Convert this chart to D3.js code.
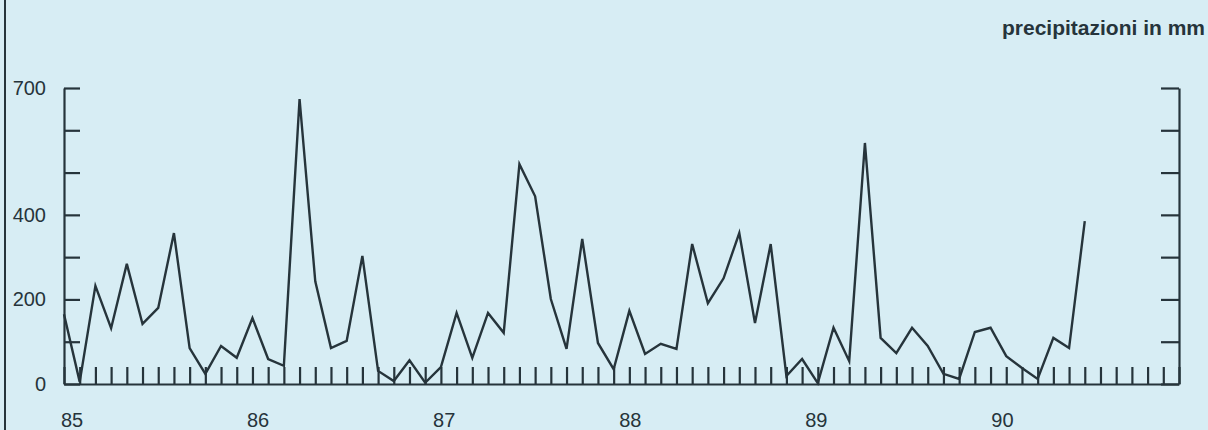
<!DOCTYPE html>
<meta charset="utf-8">
<head>
<title>precipitazioni</title>
<style>
body {
  margin: 0;
  background: #d7edf4;
  font-family: "Liberation Sans", Arial, sans-serif;
}
.axis path,
.axis line {
  fill: none;
  stroke: #26343b;
  stroke-width: 2.2;
}
.axis text {
  font: 20px "Liberation Sans", Arial, sans-serif;
  fill: #26343b;
}
.line {
  fill: none;
  stroke: #26343b;
  stroke-width: 2.4;
  stroke-linejoin: miter;
}
</style>
</head>
<body>
<script src="https://cdn.jsdelivr.net/npm/d3@7"></script>
<script>

    // Monthly rainfall, Jan 85 .. Jul 90 (mm)
    var rain = [165, 5, 232, 132, 284, 142, 180, 357, 85, 24, 90, 62,
                156, 59, 43, 674, 243, 85, 102, 303, 31, 7, 56, 3,
                40, 168, 62, 168, 121, 520, 444, 201, 83, 343, 97, 35,
                173, 71, 95, 83, 331, 191, 250, 357, 144, 331, 19, 59,
                2, 133, 54, 570, 109, 73, 133, 90, 24, 12, 123, 133,
                66, 38, 12, 109, 85, 385];

    var years = ["85", "86", "87", "88", "89", "90"];
    var yTicks = [0, 100, 200, 300, 400, 500, 600, 700];
    var yLabels = [0, 200, 400, 700];
    var nMonths = 72;

    var width = 1208,
        height = 430;

    var svg = d3.select("body").append("svg")
        .attr("width", width)
        .attr("height", height);

    var x = d3.scaleLinear().domain([0, nMonths - 1]).range([64, 1179]);
    var y = d3.scaleLinear().domain([0, 700]).range([384, 88]);

    // frame line on the far left
    svg.append("line")
        .attr("x1", 5).attr("x2", 5)
        .attr("y1", 0).attr("y2", height)
        .attr("stroke", "#26343b")
        .attr("stroke-width", 2);

    // title top right
    svg.append("text")
        .attr("x", 1205)
        .attr("y", 35)
        .attr("text-anchor", "end")
        .style("font", "bold 21px 'Liberation Sans', Arial, sans-serif")
        .style("fill", "#26343b")
        .text("precipitazioni in mm");

    // left axis, ticks pointing inward
    svg.append("g")
        .attr("class", "axis")
        .attr("transform", "translate(" + x(0) + ",0)")
        .call(d3.axisLeft(y)
            .tickValues(yTicks)
            .tickSize(-16)
            .tickSizeOuter(0)
            .tickPadding(18)
            .tickFormat(function(d) { return yLabels.indexOf(d) >= 0 ? d : ""; }));

    // right axis, no labels
    svg.append("g")
        .attr("class", "axis")
        .attr("transform", "translate(" + x(nMonths - 1) + ",0)")
        .call(d3.axisRight(y)
            .tickValues(yTicks)
            .tickSize(-18)
            .tickSizeOuter(0)
            .tickFormat(""));

    // bottom axis with month ticks
    var xAxis = svg.append("g")
        .attr("class", "axis")
        .attr("transform", "translate(0," + y(0) + ")")
        .call(d3.axisBottom(x)
            .tickValues(d3.range(nMonths))
            .tickSize(-17)
            .tickSizeOuter(0)
            .tickFormat(""));

    // january ticks a bit heavier
    xAxis.selectAll(".tick line")
        .attr("stroke-width", function(d) { return d % 12 == 0 ? 3.5 : 2.2; });

    // year labels under the axis
    svg.selectAll(".year")
        .data(years)
        .enter().append("text")
        .attr("class", "year")
        .attr("x", function(d, i) { return x(i * 11.85) + 8; })
        .attr("y", 427)
        .attr("text-anchor", "middle")
        .style("font", "20px 'Liberation Sans', Arial, sans-serif")
        .style("fill", "#26343b")
        .text(function(d) { return d; });

    // rainfall line
    var line = d3.line()
        .x(function(d, i) { return x(i); })
        .y(function(d) { return y(d); });

    svg.append("path")
        .datum(rain)
        .attr("class", "line")
        .attr("d", line);

</script>
</body>
